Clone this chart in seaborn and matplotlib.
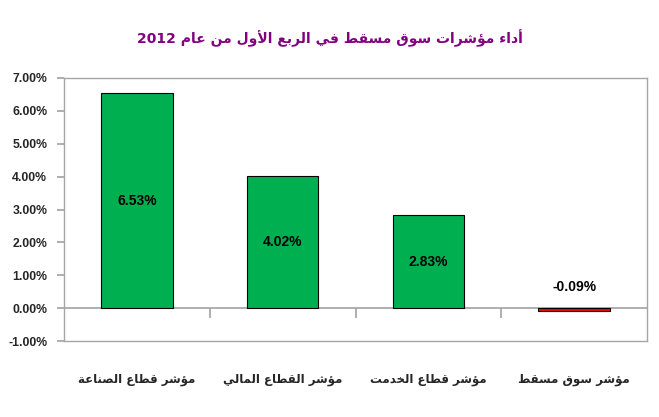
import numpy as np
import pandas as pd
import matplotlib
matplotlib.use("Agg")
import matplotlib.pyplot as plt
import seaborn as sns

# ── data ──────────────────────────────────────────────────────────
title = "أداء مؤشرات سوق مسقط في الربع الأول من عام 2012"
categories = ["مؤشر قطاع الصناعة", "مؤشر القطاع المالي",
              "مؤشر قطاع الخدمت", "مؤشر سوق مسقط"]
values = [6.53, 4.02, 2.83, -0.09]          # percent
bar_colors = ["#00B050", "#00B050", "#00B050", "#FF0000"]
y_ticks = [-1, 0, 1, 2, 3, 4, 5, 6, 7]


# ── minimal arabic shaping (presentation forms) + rtl ordering ───
FORMS = {
    '\u0621': ('\uFE80',),
    '\u0623': ('\uFE83', '\uFE84'),
    '\u0624': ('\uFE85', '\uFE86'),
    '\u0627': ('\uFE8D', '\uFE8E'),
    '\u0628': ('\uFE8F', '\uFE90', '\uFE91', '\uFE92'),
    '\u0629': ('\uFE93', '\uFE94'),
    '\u062A': ('\uFE95', '\uFE96', '\uFE97', '\uFE98'),
    '\u062E': ('\uFEA5', '\uFEA6', '\uFEA7', '\uFEA8'),
    '\u062F': ('\uFEA9', '\uFEAA'),
    '\u0631': ('\uFEAD', '\uFEAE'),
    '\u0633': ('\uFEB1', '\uFEB2', '\uFEB3', '\uFEB4'),
    '\u0634': ('\uFEB5', '\uFEB6', '\uFEB7', '\uFEB8'),
    '\u0635': ('\uFEB9', '\uFEBA', '\uFEBB', '\uFEBC'),
    '\u0637': ('\uFEC1', '\uFEC2', '\uFEC3', '\uFEC4'),
    '\u0639': ('\uFEC9', '\uFECA', '\uFECB', '\uFECC'),
    '\u0641': ('\uFED1', '\uFED2', '\uFED3', '\uFED4'),
    '\u0642': ('\uFED5', '\uFED6', '\uFED7', '\uFED8'),
    '\u0644': ('\uFEDD', '\uFEDE', '\uFEDF', '\uFEE0'),
    '\u0645': ('\uFEE1', '\uFEE2', '\uFEE3', '\uFEE4'),
    '\u0646': ('\uFEE5', '\uFEE6', '\uFEE7', '\uFEE8'),
    '\u0648': ('\uFEED', '\uFEEE'),
    '\u064A': ('\uFEF1', '\uFEF2', '\uFEF3', '\uFEF4'),
    'LA':     ('\uFEFB', '\uFEFC'),
    'LAH':    ('\uFEF7', '\uFEF8'),
}


def shape_word(word):
    units, i = [], 0
    while i < len(word):
        c = word[i]
        nxt = word[i + 1] if i + 1 < len(word) else ''
        if c == '\u0644' and nxt in ('\u0627', '\u0623'):
            units.append('LA' if nxt == '\u0627' else 'LAH')
            i += 2
            continue
        units.append(c)
        i += 1
    out = []
    for k, u in enumerate(units):
        if u not in FORMS:
            out.append(u)
            continue
        prev = units[k - 1] if k > 0 else None
        nxt = units[k + 1] if k + 1 < len(units) else None
        jp = prev in FORMS and len(FORMS[prev]) == 4
        jn = len(FORMS[u]) == 4 and nxt in FORMS
        idx = 3 if (jp and jn) else 1 if jp else 2 if jn else 0
        forms = FORMS[u]
        out.append(forms[idx] if idx < len(forms) else forms[-1])
    return ''.join(out)


def rtl(text):
    words = []
    for w in text.split(' '):
        if any(ch in FORMS for ch in w):
            words.append(shape_word(w)[::-1])
        else:
            words.append(w)
    return ' '.join(words[::-1])


# ── plot ──────────────────────────────────────────────────────────
sns.set_theme(style="white")
plt.rcParams['font.family'] = ['Liberation Sans', 'DejaVu Sans']
GRAY = '#A6A6A6'

W, H = 659, 417
fig = plt.figure(figsize=(W / 100, H / 100), dpi=100)
left, right, top, bottom = 64, 647, 78, 341
ax = fig.add_axes([left / W, 1 - bottom / H, (right - left) / W, (bottom - top) / H])

df = pd.DataFrame({'cat': [rtl(c) for c in categories], 'val': values})
sns.barplot(data=df, x='cat', y='val', hue='cat', palette=bar_colors,
            legend=False, edgecolor='black', linewidth=0.8, width=0.49,
            saturation=1, ax=ax)

ax.set_ylim(y_ticks[0], y_ticks[-1])
ax.set_yticks(y_ticks)
ax.set_yticklabels([f"{v:.2f}%" for v in y_ticks], fontweight='bold',
                   fontsize=8.8)
ax.set_xlabel('')
ax.set_ylabel('')
ax.tick_params(axis='y', left=True, length=5, color=GRAY, pad=7)
ax.tick_params(axis='x', bottom=False, length=0, pad=23)
for lbl in ax.get_xticklabels():
    lbl.set_fontweight('bold')
    lbl.set_fontsize(8.5)
    lbl.set_family(['DejaVu Sans'])
for sp in ax.spines.values():
    sp.set_color(GRAY)
    sp.set_linewidth(1)

# category axis crossing at zero, with tick marks between categories
zero_frac = (0 - y_ticks[0]) / (y_ticks[-1] - y_ticks[0])
sec = ax.secondary_xaxis(zero_frac)
sec.set_xticks(np.arange(len(categories) - 1) + 0.5)
sec.set_xticklabels([])
sec.tick_params(bottom=True, length=7, color=GRAY, direction='out')
sec.spines['bottom'].set_color(GRAY)

# data labels
for i, v in enumerate(values):
    y = v / 2 if v > 0 else 0.65
    ax.text(i, y, f"{v:.2f}%", ha='center', va='center',
            fontweight='bold', fontsize=10, color='black')

fig.text(0.5, 1 - 38 / H, rtl(title), ha='center', va='center',
         color='#800080', fontweight='bold', fontsize=10,
         family=['DejaVu Sans'])

fig.savefig('out.png', dpi=100)
